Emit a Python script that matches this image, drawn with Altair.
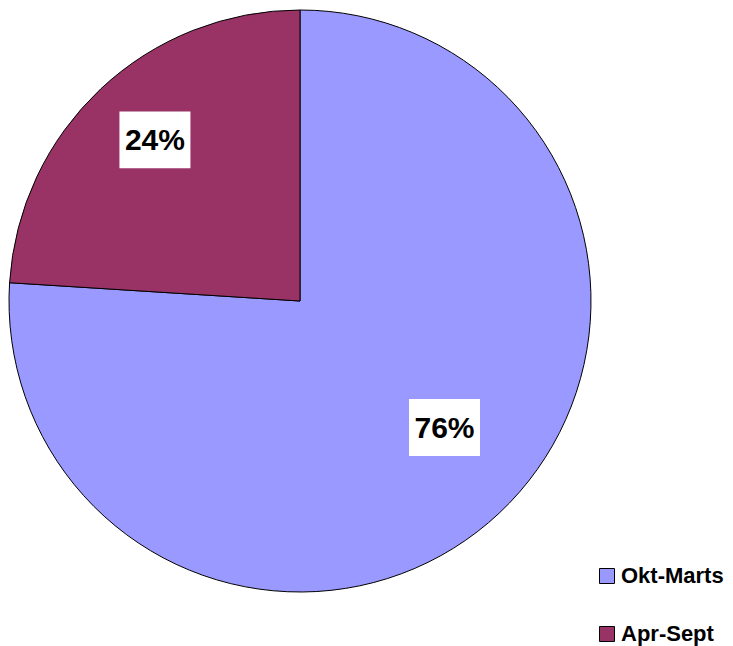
import altair as alt
import pandas as pd
import numpy as np

categories = ["Okt-Marts", "Apr-Sept"]
values = [76, 24]
labels = ["76%", "24%"]
colors = ["#9999FF", "#993366"]

# label placement (fraction of radius, small angular shift in degrees)
label_r = [0.66, 0.745]
label_shift = [-5.6, 1.2]

CX, CY, R = 292, 293, 291

vals = np.array(values, dtype=float)
ends = np.cumsum(vals)
starts = ends - vals
mid = (starts + ends) / 2 / vals.sum() * 360 + np.array(label_shift)
rad = np.deg2rad(mid)
lx = np.array(label_r) * np.sin(rad)
ly = np.array(label_r) * np.cos(rad)

df = pd.DataFrame({"cat": categories, "value": values, "order": [0, 1],
                   "label": labels, "lx": lx, "ly": ly})

xs = alt.Scale(domain=[-1, 1], range=[CX - R, CX + R])
ys = alt.Scale(domain=[-1, 1], range=[CY + R, CY - R])

pie = alt.Chart(df).mark_arc(radius=R, stroke="black", strokeWidth=1).encode(
    theta=alt.Theta("value:Q", stack=True),
    order=alt.Order("order:Q"),
    color=alt.Color("cat:N", scale=alt.Scale(domain=categories, range=colors),
                    legend=alt.Legend(title=None, orient="none", legendX=588, legendY=557,
                                      symbolType="square", symbolSize=225,
                                      symbolStrokeColor="black", symbolStrokeWidth=1,
                                      labelFont="Liberation Sans", labelFontSize=22,
                                      labelFontWeight="bold", labelColor="black",
                                      labelOffset=3, rowPadding=36, padding=0)),
    x=alt.value(CX), y=alt.value(CY),
)

boxes = alt.Chart(df).mark_point(shape="M-1,-0.8H1V0.8H-1Z", filled=True, fill="white",
                                 opacity=1, size=5041, strokeWidth=0).encode(
    x=alt.X("lx:Q", scale=xs, axis=None),
    y=alt.Y("ly:Q", scale=ys, axis=None),
)

texts = alt.Chart(df).mark_text(font="Liberation Sans", fontSize=30, fontWeight="bold",
                                color="black", align="center", baseline="middle", dy=1).encode(
    x=alt.X("lx:Q", scale=xs, axis=None),
    y=alt.Y("ly:Q", scale=ys, axis=None),
    text="label:N",
)

chart = alt.layer(pie, boxes, texts).properties(
    width=717, height=638, autosize="none", padding=0
).configure_view(stroke=None)

chart.save("out.html", embed_options={"renderer": "svg", "actions": False})
